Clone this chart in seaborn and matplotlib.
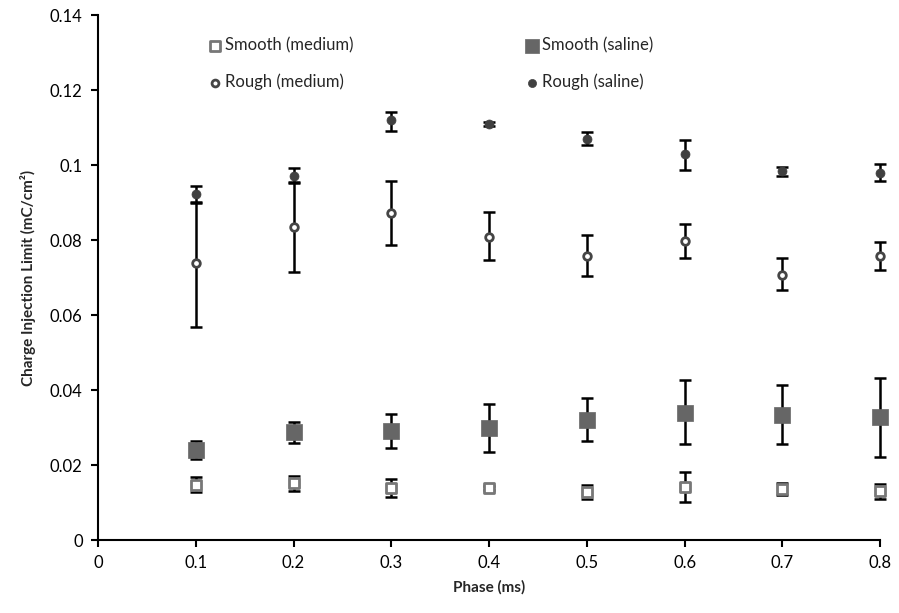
import numpy as np
import pandas as pd
import matplotlib
matplotlib.use("Agg")
import matplotlib.pyplot as plt
import seaborn as sns

phase = [0.1, 0.2, 0.3, 0.4, 0.5, 0.6, 0.7, 0.8]

smooth_medium = [0.0148, 0.0153, 0.0140, 0.0139, 0.0128, 0.0141, 0.0136, 0.0130]
smooth_medium_lo = [0.0128, 0.0132, 0.0116, 0.0134, 0.0110, 0.0101, 0.0119, 0.0110]
smooth_medium_hi = [0.0168, 0.0172, 0.0164, 0.0145, 0.0146, 0.0181, 0.0151, 0.0150]

smooth_saline = [0.0240, 0.0289, 0.0292, 0.0298, 0.0321, 0.0340, 0.0334, 0.0327]
smooth_saline_lo = [0.0216, 0.0260, 0.0246, 0.0235, 0.0264, 0.0256, 0.0256, 0.0221]
smooth_saline_hi = [0.0264, 0.0316, 0.0335, 0.0362, 0.0379, 0.0427, 0.0413, 0.0431]

rough_medium = [0.0739, 0.0835, 0.0873, 0.0809, 0.0758, 0.0797, 0.0708, 0.0758]
rough_medium_lo = [0.0567, 0.0716, 0.0786, 0.0747, 0.0703, 0.0751, 0.0667, 0.0720]
rough_medium_hi = [0.0900, 0.0952, 0.0957, 0.0874, 0.0813, 0.0844, 0.0752, 0.0796]

rough_saline = [0.0923, 0.0972, 0.1119, 0.1109, 0.1069, 0.1029, 0.0984, 0.0980]
rough_saline_lo = [0.0901, 0.0954, 0.1092, 0.1103, 0.1053, 0.0987, 0.0970, 0.0957]
rough_saline_hi = [0.0944, 0.0993, 0.1141, 0.1114, 0.1089, 0.1068, 0.0996, 0.1002]

labels = ["Smooth (medium)", "Smooth (saline)", "Rough (medium)", "Rough (saline)"]

sns.set_style("white")
plt.rcParams["font.family"] = ["Lato", "DejaVu Sans"]

fig = plt.figure(figsize=(8.99, 6.13), dpi=100)
ax = fig.add_axes([0.109, 0.119, 0.870, 0.8565])

series = [
    (smooth_medium, smooth_medium_lo, smooth_medium_hi),
    (smooth_saline, smooth_saline_lo, smooth_saline_hi),
    (rough_medium, rough_medium_lo, rough_medium_hi),
    (rough_saline, rough_saline_lo, rough_saline_hi),
]
styles = [
    dict(marker="s", s=55, facecolor="white", edgecolor="#777777", linewidth=2.0),
    dict(marker="s", s=120, facecolor="#666666", edgecolor="#666666", linewidth=0.5),
    dict(marker="o", s=30, facecolor="white", edgecolor="#454545", linewidth=2.0),
    dict(marker="o", s=42, facecolor="#404040", edgecolor="#404040", linewidth=0.5),
]

for (vals, lo, hi), lab, st in zip(series, labels, styles):
    v = np.array(vals)
    yerr = np.vstack([v - np.array(lo), np.array(hi) - v])
    eb = ax.errorbar(phase, v, yerr=yerr, fmt="none", ecolor="black",
                     elinewidth=1.8, capsize=4, capthick=1.8, zorder=2)
    for art in eb.lines[1] + eb.lines[2]:
        art.set_clip_on(False)
    df = pd.DataFrame({"Phase": phase, "Value": vals})
    sns.scatterplot(data=df, x="Phase", y="Value", ax=ax, label=lab, zorder=3,
                    clip_on=False, **st)

ax.set_xlim(0, 0.8)
ax.set_ylim(0, 0.14)
ax.set_xticks(np.arange(0, 0.81, 0.1))
ax.set_xticklabels(["0", "0.1", "0.2", "0.3", "0.4", "0.5", "0.6", "0.7", "0.8"])
ax.set_yticks(np.arange(0, 0.141, 0.02))
ax.set_yticklabels(["0", "0.02", "0.04", "0.06", "0.08", "0.1", "0.12", "0.14"])
ax.tick_params(axis="both", direction="out", length=5, width=1.5, labelsize=12,
               color="black", labelcolor="black", left=True, bottom=True, pad=6)
for side in ["top", "right"]:
    ax.spines[side].set_visible(False)
for side in ["left", "bottom"]:
    ax.spines[side].set_color("black")
    ax.spines[side].set_linewidth(1.5)
ax.grid(False)

ax.set_xlabel("Phase (ms)", fontsize=11, fontweight="bold", labelpad=6)
ax.set_ylabel("Charge Injection Limit (mC/cm²)", fontsize=11, fontweight="bold", labelpad=10)

handles, labs = ax.get_legend_handles_labels()
order = [0, 2, 1, 3]
leg = ax.legend([handles[i] for i in order], [labs[i] for i in order],
                ncol=2, frameon=False, loc="upper left", bbox_to_anchor=(0.12, 0.987),
                fontsize=12, columnspacing=10.2, handletextpad=0.1, labelspacing=1.25,
                handlelength=1.0, markerscale=0.9)

fig.savefig("out.png", dpi=100)
